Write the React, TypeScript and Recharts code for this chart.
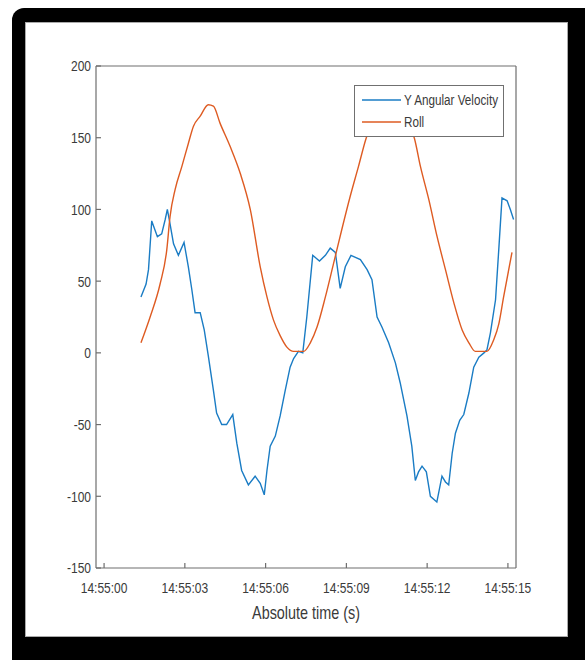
import { Legend, Line, LineChart, XAxis, YAxis } from 'recharts'

// seconds after 14:55:00
const velocityTimes = [
  1.37, 1.56, 1.65, 1.77, 1.98, 2.14, 2.27, 2.35, 2.45, 2.58, 2.76, 2.97, 3.13, 3.26, 3.38, 3.57,
  3.72, 3.87, 4.06, 4.18, 4.37, 4.55, 4.78, 4.93, 5.11, 5.36, 5.61, 5.8, 5.95, 6.05, 6.17, 6.36,
  6.54, 6.73, 6.91, 7.04, 7.22, 7.38, 7.53, 7.75, 8.0, 8.22, 8.4, 8.59, 8.77, 8.96, 9.17, 9.52,
  9.77, 9.95, 10.14, 10.32, 10.57, 10.82, 11.0, 11.25, 11.43, 11.56, 11.68, 11.81, 11.97, 12.12,
  12.36, 12.55, 12.68, 12.8, 12.93, 13.05, 13.21, 13.36, 13.55, 13.73, 13.92, 14.11, 14.22, 14.35,
  14.54, 14.66, 14.78, 14.97, 15.09, 15.21,
]
const velocityValues = [
  39, 48, 58, 92, 81, 83, 93, 100, 90, 76, 68, 77, 60, 44, 28, 28,
  16, -2, -26, -42, -50, -50, -43, -63, -82, -92, -86, -91, -99, -82, -65, -58,
  -44, -26, -10, -4, 1, 0, 25, 68, 64, 68, 73, 70, 45, 60, 68, 65,
  58, 51, 25, 18, 7, -7, -21, -44, -65, -89, -83, -79, -83, -100,
  -104, -86, -90, -92, -70, -56, -47, -43, -28, -10, -3, 0, 2, 14,
  37, 72, 108, 106, 100, 93,
]

const rollTimes = [
  1.37, 1.71, 2.08, 2.33, 2.45, 2.64, 2.89, 3.13, 3.32, 3.57, 3.87, 4.06, 4.31, 4.68, 5.06, 5.43,
  5.8, 6.05, 6.29, 6.54, 6.79, 7.04, 7.41, 7.66, 7.91, 8.22, 8.52, 8.83, 9.14, 9.45, 9.74, 10.0,
  10.3, 10.63, 11.0, 11.3, 11.52, 11.75, 12.06, 12.37, 12.68, 12.99, 13.3, 13.55, 13.79, 14.22,
  14.47, 14.66, 14.84, 15.15,
]
const rollValues = [
  7, 25, 48, 72, 95, 114, 130, 146, 158, 165, 173, 172, 160, 144, 125, 100,
  60, 39, 23, 12, 4, 1, 1, 7, 18, 39, 62, 86, 109, 130, 150, 162,
  170, 173, 168, 159, 150, 130, 107, 81, 58, 35, 16, 7, 1, 1,
  9, 20, 39, 70,
]

const timeTicks = [0, 3, 6, 9, 12, 15]
const valueTicks = [-150, -100, -50, 0, 50, 100, 150, 200]
const seriesNames = ['Y Angular Velocity', 'Roll']
const seriesColors = ['#1a7cc4', '#de5b22']

const velocityData = velocityTimes.map((t, i) => ({ t, value: velocityValues[i] }))
const rollData = rollTimes.map((t, i) => ({ t, value: rollValues[i] }))

const FONT = '"Liberation Sans", Arial, sans-serif'
const TEXT = '#3a3a3a'
const AXIS = '#6e6e6e'

const formatTime = (s: number) => `14:55:${String(s).padStart(2, '0')}`

function TimeTick({ x, y, payload }: any) {
  return (
    <text
      transform={`translate(${x},${y}) scale(0.8,1)`}
      textAnchor="middle"
      dy={12}
      fontSize={15}
      fontFamily={FONT}
      fill={TEXT}
    >
      {formatTime(payload.value)}
    </text>
  )
}

function ValueTick({ x, y, payload }: any) {
  return (
    <text
      transform={`translate(${x},${y}) scale(0.8,1)`}
      textAnchor="end"
      dy={5.4}
      fontSize={15}
      fontFamily={FONT}
      fill={TEXT}
    >
      {payload.value}
    </text>
  )
}

function AxisTitle({ viewBox }: any) {
  const cx = viewBox.x + viewBox.width / 2
  return (
    <text
      transform={`translate(${cx},619) scale(0.8,1)`}
      textAnchor="middle"
      fontSize={18}
      fontFamily={FONT}
      fill={TEXT}
    >
      Absolute time (s)
    </text>
  )
}

function LegendBox({ payload }: any) {
  const items = [...(payload ?? [])].sort(
    (a: any, b: any) => seriesNames.indexOf(a.value) - seriesNames.indexOf(b.value),
  )
  return (
    <svg width={150} height={52} style={{ display: 'block' }}>
      <rect x={0.5} y={0.5} width={149} height={51} fill="#fff" stroke="#707070" />
      {items.map((item: any, i: number) => (
        <g key={item.value}>
          <line x1={8} x2={47} y1={15 + i * 22} y2={15 + i * 22} stroke={item.color} strokeWidth={1.6} />
          <text
            transform={`translate(50,${20.4 + i * 22}) scale(0.78,1)`}
            fontSize={15}
            fontFamily={FONT}
            fill={TEXT}
          >
            {item.value}
          </text>
        </g>
      ))}
    </svg>
  )
}

export default function App() {
  return (
    <div style={{ position: 'absolute', left: 0, top: 0, width: 585, height: 660, overflow: 'hidden', background: '#fff' }}>
      <div style={{ position: 'absolute', left: 12, top: 8, width: 610, height: 690, borderRadius: 12, background: '#000' }} />
      <div
        style={{
          position: 'absolute',
          left: 25,
          top: 22,
          width: 543,
          height: 615,
          background: '#fff',
          border: '1px solid #aaa',
          boxSizing: 'border-box',
        }}
      />
      <div style={{ position: 'absolute', left: 0, top: 0 }}>
        <LineChart width={585} height={660} margin={{ top: 65, right: 68, bottom: 40, left: 56 }}>
          <XAxis
            dataKey="t"
            type="number"
            domain={[-0.3, 15.3]}
            ticks={timeTicks}
            allowDataOverflow
            height={52}
            stroke={AXIS}
            strokeWidth={1.2}
            tickSize={-5}
            tickMargin={18}
            tick={<TimeTick />}
            label={<AxisTitle />}
          />
          <XAxis
            xAxisId="top"
            orientation="top"
            dataKey="t"
            type="number"
            domain={[-0.3, 15.3]}
            ticks={timeTicks}
            allowDataOverflow
            height={1}
            stroke={AXIS}
            strokeWidth={1.2}
            tickSize={-5}
            tick={false}
          />
          <YAxis
            type="number"
            domain={[-150, 200]}
            ticks={valueTicks}
            allowDataOverflow
            width={40}
            stroke={AXIS}
            strokeWidth={1.2}
            tickSize={-5}
            tickMargin={10}
            tick={<ValueTick />}
          />
          <YAxis
            yAxisId="right"
            orientation="right"
            type="number"
            domain={[-150, 200]}
            ticks={valueTicks}
            allowDataOverflow
            width={1}
            stroke={AXIS}
            strokeWidth={1.2}
            tickSize={-5}
            tick={false}
          />
          <Legend
            layout="horizontal"
            verticalAlign="middle"
            align="center"
            content={<LegendBox />}
            wrapperStyle={{ left: 354, top: 85, width: 150, height: 52 }}
          />
          <Line
            data={velocityData}
            dataKey="value"
            name={seriesNames[0]}
            type="linear"
            stroke={seriesColors[0]}
            strokeWidth={1.4}
            dot={false}
            isAnimationActive={false}
          />
          <Line
            data={rollData}
            dataKey="value"
            name={seriesNames[1]}
            xAxisId="top"
            yAxisId="right"
            type="monotone"
            stroke={seriesColors[1]}
            strokeWidth={1.4}
            dot={false}
            isAnimationActive={false}
          />
        </LineChart>
      </div>
    </div>
  )
}
